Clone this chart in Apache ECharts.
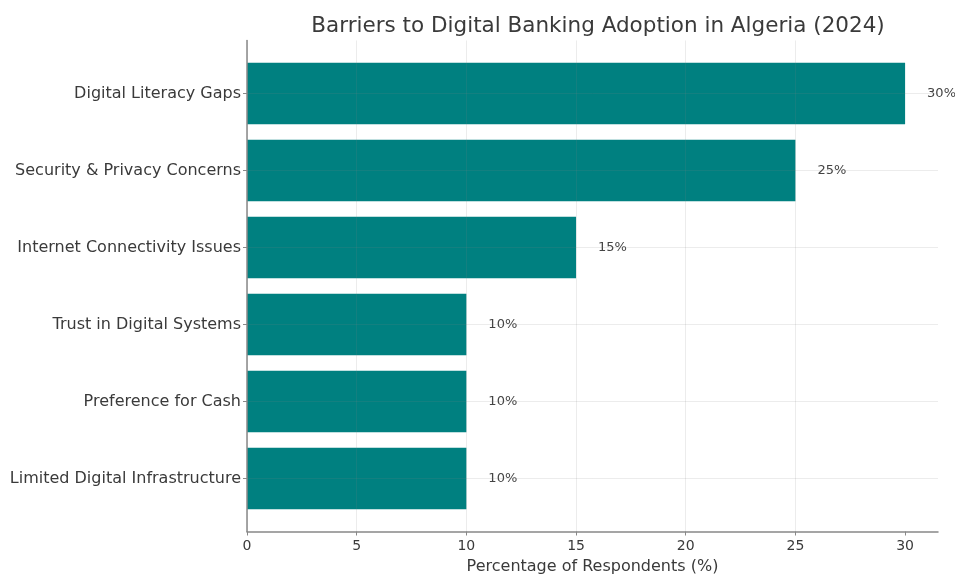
<!DOCTYPE html>
<html>
<head>
<meta charset="utf-8">
<script src="https://cdn.jsdelivr.net/npm/echarts@6/dist/echarts.min.js"></script>
<style>
  html, body { margin: 0; padding: 0; background: #ffffff; }
  #chart { width: 955px; height: 575px; }
</style>
</head>
<body>
<div id="chart"></div>
<script>
// Survey results: share of respondents citing each barrier
const barriers = [
  'Digital Literacy Gaps',
  'Security & Privacy Concerns',
  'Internet Connectivity Issues',
  'Trust in Digital Systems',
  'Preference for Cash',
  'Limited Digital Infrastructure'
];
const shares = [30, 25, 15, 10, 10, 10];
const xTickValues = [0, 5, 10, 15, 20, 25, 30];
const xAxisMax = 31.5;   // 5% headroom above the largest bar

const FONT = 'DejaVu Sans';
const TEXT = '#3a3a3a';
const GRIDLINE = 'rgba(128,128,128,0.15)';

const chart = echarts.init(document.getElementById('chart'), null, { renderer: 'canvas' });

const option = {
  backgroundColor: '#ffffff',
  animation: false,
  title: {
    text: 'Barriers to Digital Banking Adoption in Algeria (2024)',
    left: 593, top: 10, textAlign: 'center',
    textStyle: { fontFamily: FONT, fontSize: 21.5, fontWeight: 'normal', color: '#3a3a3a' }
  },
  grid: [
    // frame: x axis, left spine, vertical gridlines
    { left: 247, right: 17, top: 40.5, bottom: 43.5, outerBoundsMode: 'none', containLabel: false },
    // horizontal gridlines through row centres
    { left: 247, right: 17, top: 93.5, height: 385, outerBoundsMode: 'none', containLabel: false },
    // bars, one band per barrier
    { left: 247, right: 17, top: 55, height: 462, outerBoundsMode: 'none', containLabel: false }
  ],
  xAxis: [
    {
      gridIndex: 0, type: 'value', min: 0, max: xAxisMax, interval: 5, z: 3,
      name: 'Percentage of Respondents (%)', nameLocation: 'middle', nameGap: 27,
      nameTextStyle: { fontFamily: FONT, fontSize: 16, color: TEXT },
      axisLine: { show: true, lineStyle: { color: '#888', width: 1.5 } },
      axisTick: { show: true, length: 4, customValues: xTickValues, lineStyle: { color: '#888' } },
      axisLabel: { fontFamily: FONT, fontSize: 14, color: TEXT, margin: 8, customValues: xTickValues },
      splitLine: { show: true, showMaxLine: false, lineStyle: { color: GRIDLINE, width: 1 } }
    },
    { gridIndex: 1, type: 'value', min: 0, max: xAxisMax, show: false },
    { gridIndex: 2, type: 'value', min: 0, max: xAxisMax, show: false }
  ],
  yAxis: [
    {
      gridIndex: 0, type: 'value', min: 0, max: 1, z: 3,
      axisLine: { show: true, lineStyle: { color: '#888', width: 1.5 } },
      axisTick: { show: false }, axisLabel: { show: false }, splitLine: { show: false }
    },
    {
      gridIndex: 1, type: 'value', min: 0, max: barriers.length - 1, interval: 1, inverse: true, z: 3,
      axisLine: { show: false }, axisTick: { show: false }, axisLabel: { show: false },
      splitLine: { show: true, lineStyle: { color: GRIDLINE, width: 1 } }
    },
    {
      gridIndex: 2, type: 'category', data: barriers, inverse: true,
      axisLine: { show: false },
      axisTick: { show: true, alignWithLabel: true, length: 4, lineStyle: { color: '#888' } },
      axisLabel: { fontFamily: FONT, fontSize: 16, color: TEXT, margin: 6 },
      splitLine: { show: false }
    }
  ],
  series: [
    {
      type: 'bar', xAxisIndex: 2, yAxisIndex: 2,
      data: shares, barWidth: '80%', z: 2,
      itemStyle: { color: '#008080' },
      label: {
        show: true, position: 'right', distance: 22,
        formatter: p => p.value + '%',
        fontFamily: FONT, fontSize: 13, color: '#444'
      }
    }
  ]
};

chart.setOption(option);
</script>
</body>
</html>
